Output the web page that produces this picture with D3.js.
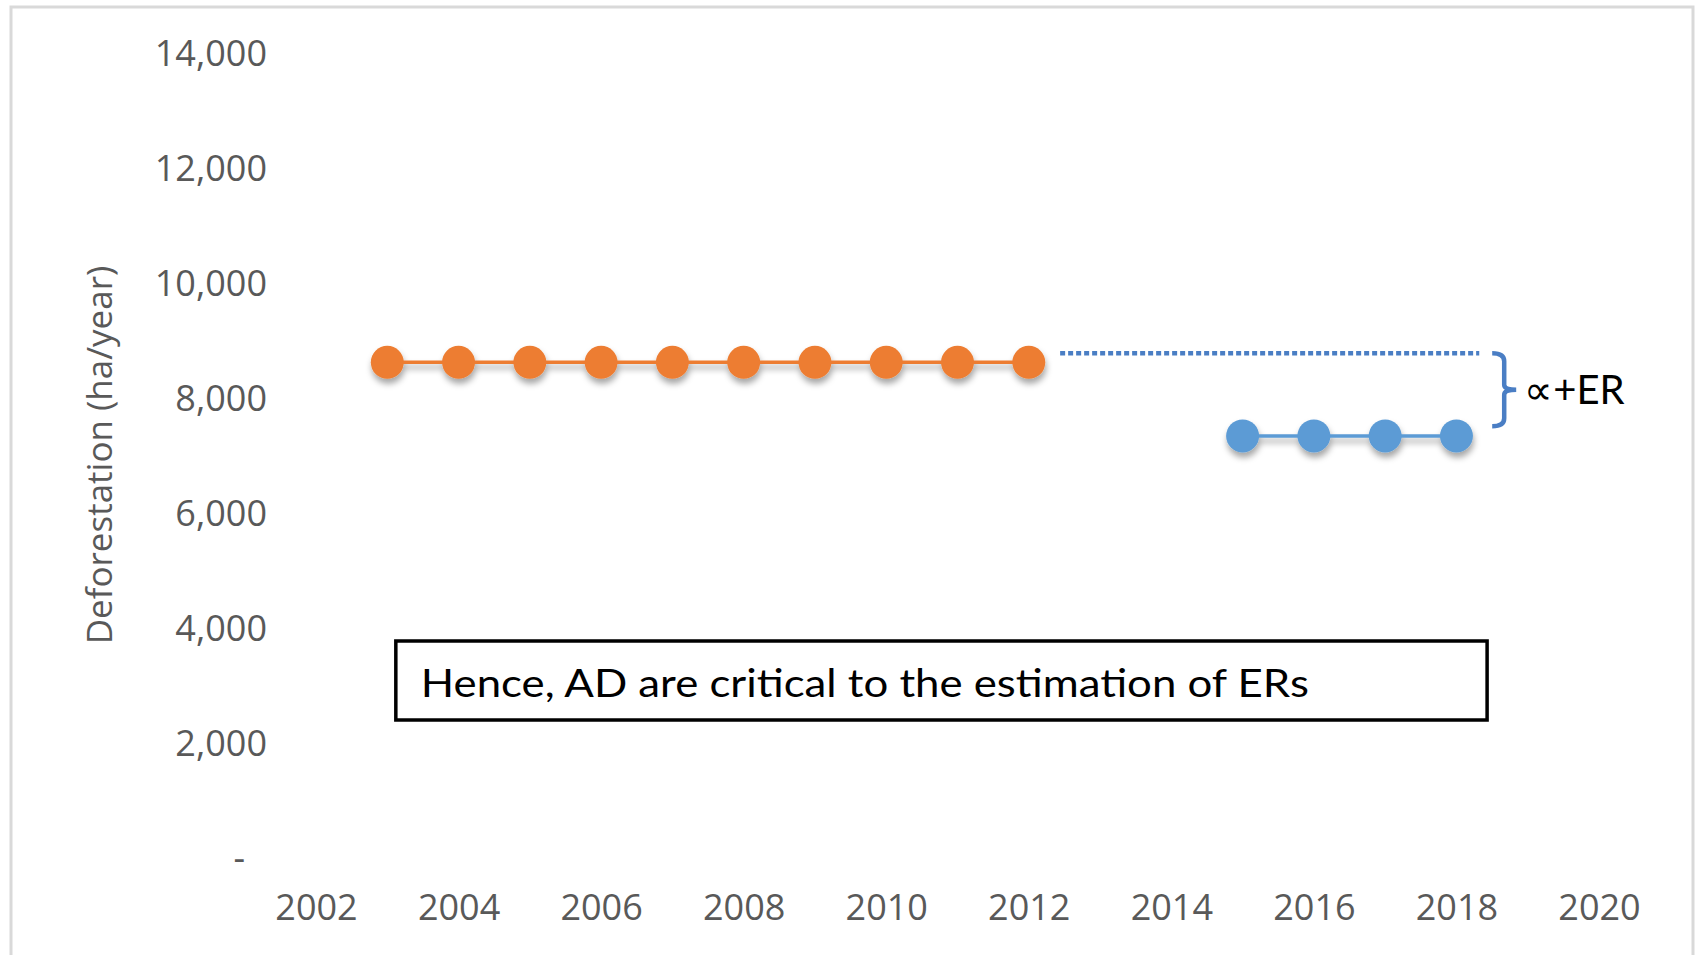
<!DOCTYPE html>
<meta charset="utf-8">
<style>
html, body { margin: 0; padding: 0; background: #fff; }
body { font-family: "Open Sans", Lato, sans-serif; }
.tick text { fill: #595959; }
</style>
<body>
<svg width="1698" height="955"></svg>
</body>
<script src="https://d3js.org/d3.v7.min.js"></script>
<script>

// data
var refYears = [2003, 2004, 2005, 2006, 2007, 2008, 2009, 2010, 2011, 2012];
var refValues = [8620, 8620, 8620, 8620, 8620, 8620, 8620, 8620, 8620, 8620];
var monYears = [2015, 2016, 2017, 2018];
var monValues = [7340, 7340, 7340, 7340];

// dotted reference level and the bracket drawn beside it
var levelLine = {from: 2012.44, to: 2018.32, value: 8780};
var bracket = {year: 2018.67, top: 8780, bottom: 7510, label: "\u221D+ER"};

var yTicks = [0, 2000, 4000, 6000, 8000, 10000, 12000, 14000];
var xTicks = [2002, 2004, 2006, 2008, 2010, 2012, 2014, 2016, 2018, 2020];
var yTitle = "Deforestation (ha/year)";
var note = "Hence, AD are critical to the estimation of ERs";
var noteBox = {x0: 2003.12, x1: 2018.43, top: 3774, bottom: 2400};

var svg = d3.select("svg"),
    width = +svg.attr("width"),
    height = +svg.attr("height");

var x = d3.scaleLinear().domain([2002, 2020]).range([316, 1599]);
var y = d3.scaleLinear().domain([0, 14000]).range([858, 53]);

// chart frame
svg.append("rect")
    .attr("x", 11).attr("y", 7)
    .attr("width", 1682).attr("height", 960)
    .attr("fill", "#fff")
    .attr("stroke", "#d9d9d9")
    .attr("stroke-width", 3);

// shadow like the office one
var defs = svg.append("defs");
defs.append("filter")
    .attr("id", "shadow")
    .attr("x", "-50%").attr("y", "-50%")
    .attr("width", "200%").attr("height", "200%")
  .append("feDropShadow")
    .attr("dx", 1).attr("dy", 5)
    .attr("stdDeviation", 3)
    .attr("flood-color", "#000")
    .attr("flood-opacity", 0.35);

// axes
var yAxis = d3.axisLeft(y)
    .tickValues(yTicks)
    .tickSize(0)
    .tickPadding(0)
    .tickFormat(function(d) { return d === 0 ? "-" : d3.format(",")(d); });

var gy = svg.append("g")
    .attr("transform", "translate(267,0)")
    .call(yAxis);
gy.select(".domain").remove();
gy.selectAll(".tick text")
    .attr("font-size", 36)
    .attr("font-family", "'Open Sans', Lato, sans-serif")
    .attr("dy", "0.35em")
    .attr("x", function(d) { return d === 0 ? -22 : 0; });

var xAxis = d3.axisBottom(x)
    .tickValues(xTicks)
    .tickSize(0)
    .tickPadding(0)
    .tickFormat(d3.format("d"));

var gx = svg.append("g")
    .attr("transform", "translate(0,907)")
    .call(xAxis);
gx.select(".domain").remove();
gx.selectAll(".tick text")
    .attr("font-size", 36)
    .attr("font-family", "'Open Sans', Lato, sans-serif")
    .attr("y", 0)
    .attr("dy", "0.35em");

// y title
svg.append("text")
    .attr("transform", "translate(100," + 455 + ") rotate(-90)")
    .attr("text-anchor", "middle")
    .attr("dy", "0.35em")
    .attr("font-size", 35)
    .attr("fill", "#595959")
    .text(yTitle);

// series
function drawSeries(years, values, colour) {
    var pts = years.map(function(yr, i) { return [yr, values[i]]; });
    var g = svg.append("g").attr("filter", "url(#shadow)");
    g.append("path")
        .datum(pts)
        .attr("fill", "none")
        .attr("stroke", colour)
        .attr("stroke-width", 3.5)
        .attr("d", d3.line()
            .x(function(d) { return x(d[0]); })
            .y(function(d) { return y(d[1]); }));
    g.selectAll("circle")
        .data(pts)
        .enter().append("circle")
        .attr("cx", function(d) { return x(d[0]); })
        .attr("cy", function(d) { return y(d[1]); })
        .attr("r", 16.5)
        .attr("fill", colour);
}

drawSeries(refYears, refValues, "#ED7D31");
drawSeries(monYears, monValues, "#5B9BD5");

// dotted level
svg.append("line")
    .attr("x1", x(levelLine.from)).attr("x2", x(levelLine.to))
    .attr("y1", y(levelLine.value)).attr("y2", y(levelLine.value))
    .attr("stroke", "#4A7EC4")
    .attr("stroke-width", 4.5)
    .attr("stroke-dasharray", "5,3");

// bracket
var bx = x(bracket.year),
    bt = y(bracket.top),
    bb = y(bracket.bottom),
    bm = (bt + bb) / 2;
svg.append("path")
    .attr("d", "M" + (bx - 12) + "," + bt + " Q" + bx + "," + bt + " " + bx + "," + (bt + 8) +
               " L" + bx + "," + (bm - 5) + " Q" + bx + "," + bm + " " + (bx + 12) + "," + bm +
               " Q" + bx + "," + bm + " " + bx + "," + (bm + 5) +
               " L" + bx + "," + (bb - 8) + " Q" + bx + "," + bb + " " + (bx - 12) + "," + bb)
    .attr("fill", "none")
    .attr("stroke", "#4A7EC4")
    .attr("stroke-width", 4.5);

svg.append("text")
    .attr("x", bx + 20)
    .attr("y", bm)
    .attr("dy", "0.35em")
    .attr("font-size", 40)
    .attr("font-family", "Lato, sans-serif")
    .attr("fill", "#000")
    .text(bracket.label);

// note box
svg.append("rect")
    .attr("x", x(noteBox.x0))
    .attr("y", y(noteBox.top))
    .attr("width", x(noteBox.x1) - x(noteBox.x0))
    .attr("height", y(noteBox.bottom) - y(noteBox.top))
    .attr("fill", "#fff")
    .attr("stroke", "#000")
    .attr("stroke-width", 3.5);

svg.append("text")
    .attr("x", x(noteBox.x0) + 25)
    .attr("y", 697)
    .attr("font-size", 38)
    .attr("font-family", "Lato, sans-serif")
    .attr("fill", "#000")
    .attr("textLength", 888)
    .attr("lengthAdjust", "spacingAndGlyphs")
    .text(note);

</script>
